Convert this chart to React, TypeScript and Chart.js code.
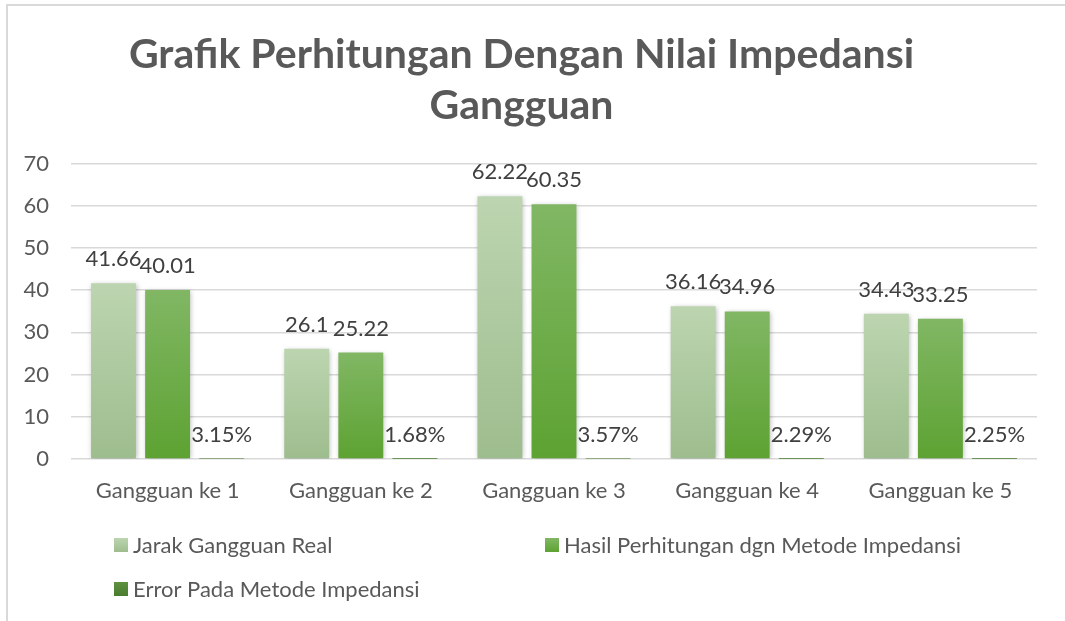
import React, { useEffect, useRef } from "react";
import { Chart, registerables } from "chart.js";

Chart.register(...registerables);

const TITLE_LINES = ["Grafik Perhitungan Dengan Nilai Impedansi", "Gangguan"];
const CATEGORIES = ["Gangguan ke 1", "Gangguan ke 2", "Gangguan ke 3", "Gangguan ke 4", "Gangguan ke 5"];
const SERIES_NAMES = [
  "Jarak Gangguan Real",
  "Hasil Perhitungan dgn Metode Impedansi",
  "Error Pada Metode Impedansi",
];
const JARAK_REAL = [41.66, 26.1, 62.22, 36.16, 34.43];
const HASIL_IMPEDANSI = [40.01, 25.22, 60.35, 34.96, 33.25];
const ERROR_IMPEDANSI = [0.0315, 0.0168, 0.0357, 0.0229, 0.0225];
const Y_MIN = 0;
const Y_MAX = 70;
const Y_STEP = 10;

const FONT = "Lato, 'Open Sans', sans-serif";
const AXIS_COLOR = "#595959";
const LABEL_COLOR = "#404040";
const GRID_COLOR = "#D9D9D9";

const SERIES_GRADIENTS: [string, string][] = [
  ["#BCD5B0", "#9EBD8E"],
  ["#81B764", "#5DA232"],
  ["#5E9240", "#4A7C2E"],
];

function gradientFill(colors: [string, string]) {
  return (ctx: any) => {
    const chart = ctx.chart;
    if (!chart.chartArea || ctx.type !== "data") return colors[1];
    const ys = chart.scales.y;
    const top = ys.getPixelForValue(ctx.raw as number);
    const bot = ys.getPixelForValue(0);
    if (bot - top < 1) return colors[1];
    const g = chart.ctx.createLinearGradient(0, top, 0, bot);
    g.addColorStop(0, colors[0]);
    g.addColorStop(1, colors[1]);
    return g;
  };
}

const shadowPlugin = {
  id: "barShadow",
  beforeDatasetDraw(chart: any, args: any) {
    const c = chart.ctx;
    c.save();
    if (args.index !== 2) {
      c.shadowColor = "rgba(0,0,0,0.28)";
      c.shadowBlur = 5;
      c.shadowOffsetX = 1;
      c.shadowOffsetY = 1;
    }
  },
  afterDatasetDraw(chart: any) {
    chart.ctx.restore();
  },
};

const valueLabelPlugin = {
  id: "valueLabels",
  afterDraw(chart: any) {
    const c = chart.ctx;
    c.save();
    c.font = `22px ${FONT}`;
    c.fillStyle = LABEL_COLOR;
    c.textAlign = "center";
    c.textBaseline = "alphabetic";
    chart.data.datasets.forEach((ds: any, di: number) => {
      const meta = chart.getDatasetMeta(di);
      meta.data.forEach((el: any, i: number) => {
        const v = ds.data[i] as number;
        const txt = di === 2 ? (v * 100).toFixed(2) + "%" : String(v);
        c.fillText(txt, el.x, el.y - 17);
      });
    });
    c.restore();
  },
};

// legend grid: two columns, rows below the x axis labels
const LEGEND_COLS = [114, 545];
const LEGEND_ROWS = [538, 582];
const LEGEND_BOX = 14;

const legendPlugin = {
  id: "gridLegend",
  afterDraw(chart: any) {
    const c = chart.ctx;
    c.save();
    c.font = `22px ${FONT}`;
    c.textAlign = "left";
    c.textBaseline = "middle";
    chart.data.datasets.forEach((ds: any, di: number) => {
      const x = LEGEND_COLS[di % 2];
      const y = LEGEND_ROWS[Math.floor(di / 2)];
      const cols = SERIES_GRADIENTS[di];
      const g = c.createLinearGradient(0, y, 0, y + LEGEND_BOX);
      g.addColorStop(0, cols[0]);
      g.addColorStop(1, cols[1]);
      c.fillStyle = g;
      c.fillRect(x, y, LEGEND_BOX, LEGEND_BOX);
      c.fillStyle = AXIS_COLOR;
      c.fillText(ds.label, x + LEGEND_BOX + 5, y + LEGEND_BOX / 2 + 1);
    });
    c.restore();
  },
};

export default function App() {
  const ref = useRef<HTMLCanvasElement | null>(null);

  useEffect(() => {
    if (!ref.current) return;
    const series = [JARAK_REAL, HASIL_IMPEDANSI, ERROR_IMPEDANSI];
    const chart = new Chart(ref.current, {
      type: "bar",
      data: {
        labels: CATEGORIES,
        datasets: series.map((d, i) => ({
          label: SERIES_NAMES[i],
          data: d,
          backgroundColor: gradientFill(SERIES_GRADIENTS[i]),
          borderWidth: 0,
          inflateAmount: i === 2 ? 0 : "auto",
          categoryPercentage: 0.84,
          barPercentage: 0.83,
        })),
      },
      options: {
        animation: false,
        responsive: true,
        maintainAspectRatio: false,
        layout: { padding: { left: 6, right: 28, top: 0, bottom: 0 } },
        plugins: {
          legend: { display: false },
          tooltip: { enabled: false },
          title: {
            display: true,
            text: TITLE_LINES,
            color: AXIS_COLOR,
            font: { family: FONT, size: 41, weight: "bold", lineHeight: 1.25 },
            padding: { top: 29, bottom: 32 },
          },
        },
        scales: {
          x: {
            grid: { display: false, drawTicks: false },
            border: { display: false },
            ticks: {
              color: AXIS_COLOR,
              font: { family: FONT, size: 22 },
              padding: 19,
              maxRotation: 0,
              autoSkip: false,
            },
            afterFit: (s: any) => {
              s.height = 162;
            },
          },
          y: {
            min: Y_MIN,
            max: Y_MAX,
            ticks: {
              stepSize: Y_STEP,
              color: AXIS_COLOR,
              font: { family: FONT, size: 22 },
              padding: 22,
            },
            grid: { color: GRID_COLOR, lineWidth: 1.5, drawTicks: false },
            border: { display: false },
            afterFit: (s: any) => {
              s.width = 65;
            },
          },
        },
      },
      plugins: [shadowPlugin, valueLabelPlugin, legendPlugin],
    });
    return () => chart.destroy();
  }, []);

  return (
    <div style={{ position: "fixed", left: 0, top: 0, width: 1065, height: 621, background: "#fff" }}>
      <div
        style={{
          position: "absolute",
          left: 6,
          top: 4,
          right: 0,
          bottom: 0,
          borderTop: "2px solid #D9D9D9",
          borderLeft: "2px solid #D9D9D9",
        }}
      />
      <div style={{ position: "absolute", left: 0, top: 0, width: 1065, height: 621 }}>
        <canvas ref={ref} />
      </div>
    </div>
  );
}
